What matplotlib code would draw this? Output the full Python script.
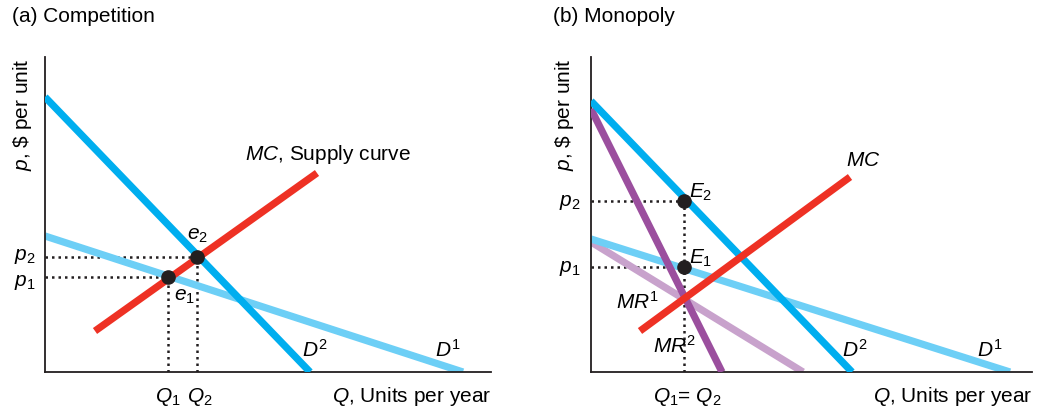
# Competition vs monopoly: demand shift diagrams

import matplotlib
matplotlib.use("Agg")
import matplotlib.pyplot as plt

plt.rcParams["font.family"] = ["Liberation Sans", "DejaVu Sans"]
plt.rcParams["mathtext.fontset"] = "custom"
plt.rcParams["mathtext.rm"] = "Liberation Sans"
plt.rcParams["mathtext.it"] = "Liberation Sans:italic"

# ---- data (arbitrary units) ----
# panel (a) competition
a_d1 = [(0, 136), (418, 0)]
a_d2 = [(0, 275), (265, 0)]
a_mc = [(50, 41), (272, 199)]
a_e1 = (123, 95)
a_e2 = (152, 115)

# panel (b) monopoly
b_d1 = [(0, 133), (419, 0)]
b_d2 = [(0, 271), (261, 0)]
b_mr1 = [(0, 130), (212, 0)]
b_mr2 = [(0, 263), (131, 0)]
b_mc = [(49, 41), (259, 195)]
b_e1 = (93, 105)
b_e2 = (93, 171)

DARK_BLUE = "#00AEEF"
LIGHT_BLUE = "#6DCFF6"
RED = "#EE3124"
DARK_PURPLE = "#9B4F9E"
LIGHT_PURPLE = "#C8A2CC"
DOT = "#231F20"
LW = 5.2
FS = 15

fig = plt.figure(figsize=(10.37, 4.10), dpi=100)
ax_a = fig.add_axes([45 / 1037, 37 / 410, 446 / 1037, 315 / 410])
ax_b = fig.add_axes([591 / 1037, 37 / 410, 441 / 1037, 315 / 410])


def seg(ax, pts, color, z=2):
    xs, ys = zip(*pts)
    ax.plot(xs, ys, color=color, lw=LW, solid_capstyle="butt", zorder=z)


def dots(ax, xs, ys):
    ax.plot(xs, ys, color=DOT, lw=1.8, ls=(0, (1, 1.6)), zorder=1)


def setup(ax, xmax):
    ax.set_xlim(0, xmax)
    ax.set_ylim(0, 315)
    for s in ["top", "right"]:
        ax.spines[s].set_visible(False)
    for s in ["left", "bottom"]:
        ax.spines[s].set_linewidth(1.3)
        ax.spines[s].set_color(DOT)
    ax.set_xticks([])
    ax.set_yticks([])
    ax.patch.set_alpha(0)


# ---- (a) ----
ax = ax_a
setup(ax, 446)
dots(ax, [0, a_e2[0]], [a_e2[1], a_e2[1]])
dots(ax, [0, a_e1[0]], [a_e1[1], a_e1[1]])
dots(ax, [a_e1[0], a_e1[0]], [0, a_e1[1]])
dots(ax, [a_e2[0], a_e2[0]], [0, a_e2[1]])
seg(ax, a_d1, LIGHT_BLUE)
seg(ax, a_d2, DARK_BLUE, 3)
seg(ax, a_mc, RED, 4)
ax.plot([a_e1[0], a_e2[0]], [a_e1[1], a_e2[1]], "o", color=DOT, ms=9.5, zorder=5)
ax.text(200, 218, "$MC$, Supply curve", fontsize=FS, va="center", ha="left")
ax.text(152, 137, "$e_2$", fontsize=FS, ha="center", va="center")
ax.text(139, 76, "$e_1$", fontsize=FS, ha="center", va="center")
ax.text(270, 23, "$D^2$", fontsize=FS, ha="center", va="center")
ax.text(403, 23, "$D^1$", fontsize=FS, ha="center", va="center")
ax.text(-9, a_e2[1] + 2, "$p_2$", fontsize=FS, ha="right", va="center", clip_on=False)
ax.text(-9, a_e1[1] - 4, "$p_1$", fontsize=FS, ha="right", va="center", clip_on=False)
ax.text(a_e1[0], -24, "$Q_1$", fontsize=FS, ha="center", va="center", clip_on=False)
ax.text(a_e2[0] + 3, -24, "$Q_2$", fontsize=FS, ha="center", va="center", clip_on=False)
ax.text(446, -24, "$Q$, Units per year", fontsize=FS, ha="right", va="center", clip_on=False)
ax.text(-22, 315, "$p$, \\$ per unit", fontsize=FS, rotation=90, ha="center", va="top",
        clip_on=False)
fig.text(12 / 1037, 1 - 17 / 410, "(a) Competition", fontsize=FS, ha="left", va="center")

# ---- (b) ----
ax = ax_b
setup(ax, 441)
dots(ax, [0, b_e2[0]], [b_e2[1], b_e2[1]])
dots(ax, [0, b_e1[0]], [b_e1[1], b_e1[1]])
dots(ax, [b_e2[0], b_e2[0]], [0, b_e2[1]])
seg(ax, b_mr1, LIGHT_PURPLE)
seg(ax, b_d1, LIGHT_BLUE)
seg(ax, b_mr2, DARK_PURPLE, 3)
seg(ax, b_d2, DARK_BLUE, 3)
seg(ax, b_mc, RED, 4)
ax.plot([b_e1[0], b_e2[0]], [b_e1[1], b_e2[1]], "o", color=DOT, ms=9.5, zorder=5)
ax.text(272, 213, "$MC$", fontsize=FS, ha="center", va="center")
ax.text(110, 181, "$E_2$", fontsize=FS, ha="center", va="center")
ax.text(110, 115, "$E_1$", fontsize=FS, ha="center", va="center")
ax.text(47, 71, "$MR^1$", fontsize=FS, ha="center", va="center")
ax.text(84, 27, "$MR^2$", fontsize=FS, ha="center", va="center")
ax.text(264, 23, "$D^2$", fontsize=FS, ha="center", va="center")
ax.text(399, 23, "$D^1$", fontsize=FS, ha="center", va="center")
ax.text(-10, b_e2[1] - 1, "$p_2$", fontsize=FS, ha="right", va="center", clip_on=False)
ax.text(-10, b_e1[1] - 1, "$p_1$", fontsize=FS, ha="right", va="center", clip_on=False)
ax.text(b_e2[0] + 3, -24, "$Q_1$= $Q_2$", fontsize=FS, ha="center", va="center",
        clip_on=False)
ax.text(441, -24, "$Q$, Units per year", fontsize=FS, ha="right", va="center", clip_on=False)
ax.text(-26, 315, "$p$, \\$ per unit", fontsize=FS, rotation=90, ha="center", va="top",
        clip_on=False)
fig.text(553 / 1037, 1 - 17 / 410, "(b) Monopoly", fontsize=FS, ha="left", va="center")

fig.savefig("out.png", dpi=100)
